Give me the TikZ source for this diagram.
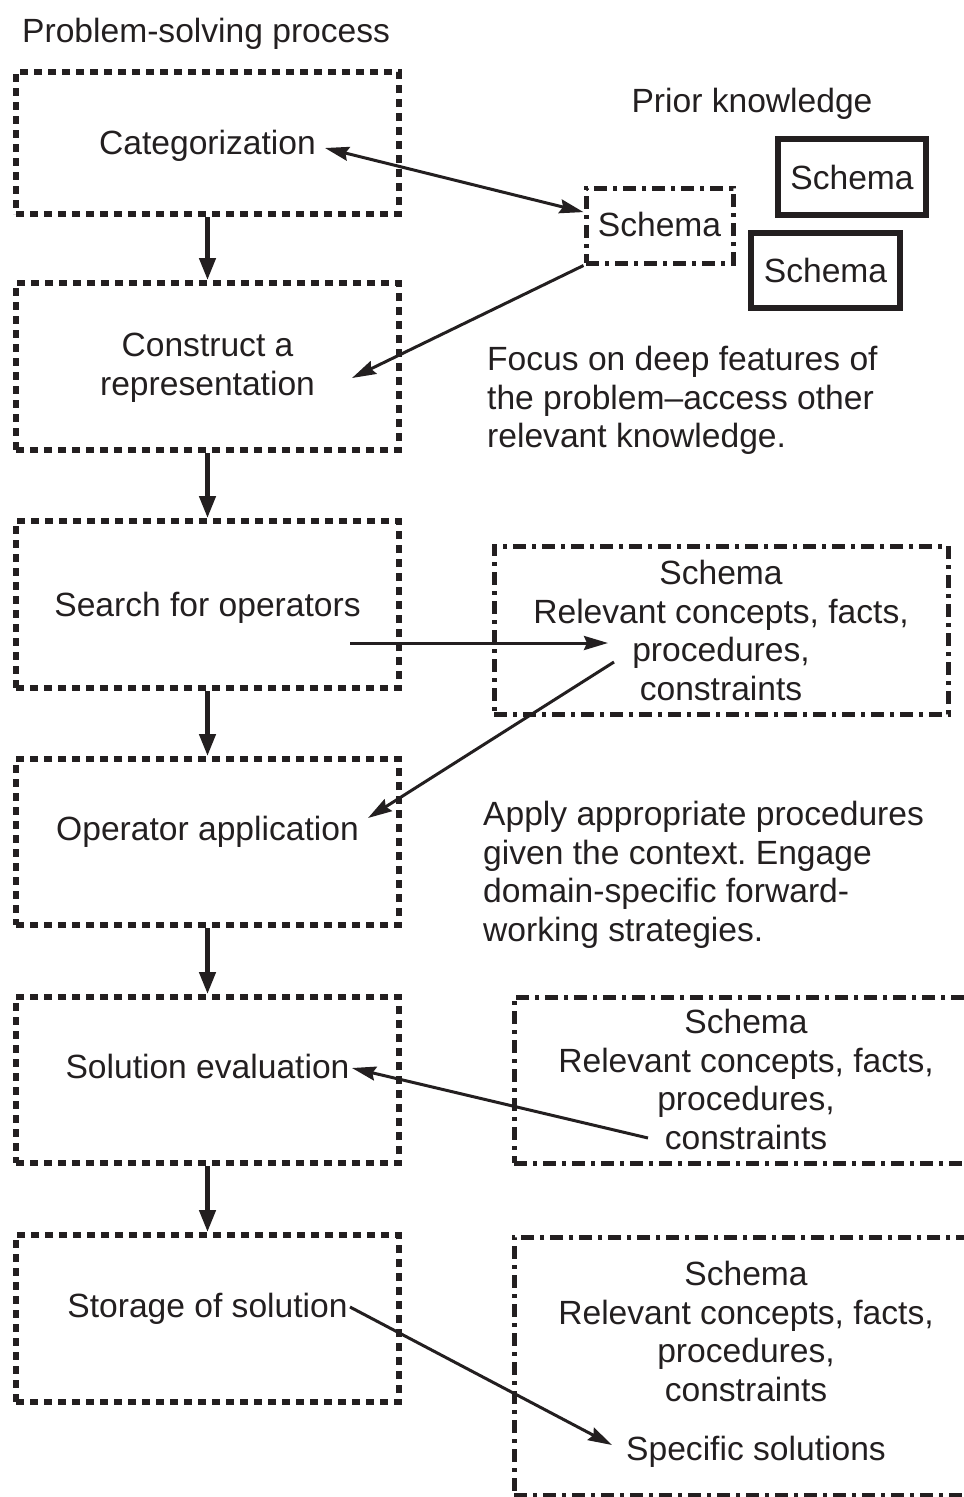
\documentclass[tikz,border=0pt]{standalone}
\usepackage{fontspec}
\setmainfont{Liberation Sans}
\usetikzlibrary{arrows.meta}
\definecolor{ink}{HTML}{231F20}
\frenchspacing
\begin{document}
\begin{tikzpicture}[x=1pt,y=-1pt,
  every node/.style={text=ink, inner sep=0pt, font=\fontsize{33.6}{38.5}\selectfont},
  procbox/.style={draw=ink, line width=6pt, dash pattern=on 8pt off 6pt,
    minimum width=383pt},
  knowbox/.style={draw=ink, line width=5pt,
    dash pattern=on 13pt off 6pt on 4pt off 6pt},
  solidbox/.style={draw=ink, line width=6pt, minimum width=148pt, minimum height=76pt},
  txt/.style={anchor=base},
  block/.style={anchor=north, align=center},
  para/.style={anchor=north west, align=left},
  flow/.style={draw=ink, line width=4.5pt, -{Triangle[length=22pt,width=16pt]}},
  tip/.style={Stealth[length=24pt,width=14pt,inset=3pt]},
  conn/.style={draw=ink, line width=3pt, -{Stealth[length=24pt,width=14pt,inset=3pt]}},
  dconn/.style={draw=ink, line width=3pt,
    {Stealth[length=24pt,width=14pt,inset=3pt]}-{Stealth[length=24pt,width=14pt,inset=3pt]}}
]
\useasboundingbox (0,0) rectangle (964,1497);

% headings
\node[anchor=base west] (title) at (22,42) {Problem-solving process};
\node[txt] (prior) at (752,112) {Prior knowledge};

% problem-solving stages
\node[procbox, minimum height=142pt] (b1) at (207.5,143) {};
\node[procbox, minimum height=167pt] (b2) at (207.5,366.5) {};
\node[procbox, minimum height=167pt] (b3) at (207.5,604.5) {};
\node[procbox, minimum height=166pt] (b4) at (207.5,842) {};
\node[procbox, minimum height=166pt] (b5) at (207.5,1080) {};
\node[procbox, minimum height=167pt] (b6) at (207.5,1318.5) {};

\node[txt] (t1) at (207.5,154) {Categorization};
\node[block] (t2) at (207.5,333) {Construct a\\representation};
\node[txt] (t3) at (207.5,616) {Search for operators};
\node[txt] (t4) at (207.5,840) {Operator application};
\node[txt] (t5) at (207.5,1078) {Solution evaluation};
\node[txt] (t6) at (207.5,1317) {Storage of solution};

\draw[flow] (b1.south) -- (b2.north);
\draw[flow] (b2.south) -- (b3.north);
\draw[flow] (b3.south) -- (b4.north);
\draw[flow] (b4.south) -- (b5.north);
\draw[flow] (b5.south) -- (b6.north);

% prior knowledge schemas
\node[knowbox, minimum width=147pt, minimum height=75pt] (s0) at (659.5,225.5) {};
\node[txt] (s0t) at (659.5,236) {Schema};
\node[solidbox] (sa) at (852,177) {};
\node[txt] (sat) at (852,189) {Schema};
\node[solidbox, minimum width=149pt, minimum height=75pt] (sb) at (825.5,270.5) {};
\node[txt] (sbt) at (825.5,282) {Schema};

\node[para] (focus) at (487,346) {Focus on deep features of\\the problem--access other\\relevant knowledge.};

% schema boxes beside the later stages
\node[knowbox, minimum width=454pt, minimum height=168pt] (k1) at (721,630) {};
\node[block] (k1t) at (721,560) {Schema\\Relevant concepts, facts,\\procedures,\\constraints};

\node[para] (apply) at (483,801) {Apply appropriate procedures\\given the context. Engage\\domain-specific forward-\\working strategies.};

\node[knowbox, minimum width=461pt, minimum height=166pt] (k2) at (744.5,1080) {};
\node[block] (k2t) at (746,1009) {Schema\\Relevant concepts, facts,\\procedures,\\constraints};

\node[knowbox, minimum width=461pt, minimum height=258pt] (k3) at (744.5,1366) {};
\node[block] (k3t) at (746,1261) {Schema\\Relevant concepts, facts,\\procedures,\\constraints};
\node[txt] (spec) at (756,1460) {Specific solutions};

% connector end points
\coordinate (catend) at (325,148);
\coordinate (repin) at (352,378);
\coordinate (srchout) at (350,643);
\coordinate (procin) at (608,643);
\coordinate (procout) at (614,662);
\coordinate (opin) at (368,818);
\coordinate (consout) at (648,1138);
\coordinate (evalin) at (352,1068);
\coordinate (storeout) at (350,1307);
\coordinate (specin) at (612,1445);

\draw[dconn] (catend) -- (s0.170);
\draw[conn] (s0.south west) -- (repin);
\draw[conn] (srchout) -- (procin);
\draw[conn] (procout) -- (opin);
\draw[conn] (consout) -- (evalin);
\draw[conn] (storeout) -- (specin);
\end{tikzpicture}
\end{document}
